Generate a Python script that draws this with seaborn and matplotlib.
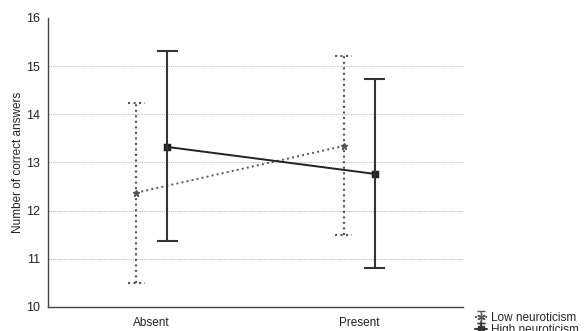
import numpy as np
import pandas as pd
import matplotlib
matplotlib.use("Agg")
import matplotlib.pyplot as plt
import seaborn as sns

# summary values
conditions = ["Absent", "Present"]
groups = ["Low neuroticism", "High neuroticism"]
means_low = [12.37, 13.34]
upper_low = [14.23, 15.20]
lower_low = [10.50, 11.50]
means_high = [13.32, 12.76]
upper_high = [15.31, 14.73]
lower_high = [11.37, 10.80]

df = pd.DataFrame({
    "condition": conditions * 2,
    "group": [groups[0]] * 2 + [groups[1]] * 2,
    "score": means_low + means_high,
})

sns.set_style("white")
plt.rcParams["font.family"] = ["Liberation Sans", "DejaVu Sans"]

fig = plt.figure(figsize=(5.86, 3.31), dpi=100)
ax = fig.add_axes([0.082, 0.073, 0.708, 0.873])

# grid lines
for y in [11, 12, 13, 14, 15]:
    ax.axhline(y, color="#bdbdbd", lw=0.8, ls=(0, (1, 1)), zorder=0)

sns.pointplot(data=df, x="condition", y="score", hue="group", order=conditions,
              hue_order=groups, dodge=0.15, errorbar=None,
              palette=["#555555", "#222222"], markers=["*", "s"],
              linestyles=[":", "-"], markersize=5, linewidth=1.4, ax=ax, legend=False)

dodge = 0.075
xs = np.arange(len(conditions))
styles = [
    dict(lo=lower_low, hi=upper_low, off=-dodge, ls=":",
         color="#555555", marker=(6, 2, 0), cap=0.04, ms=6),
    dict(lo=lower_high, hi=upper_high, off=dodge, ls="-",
         color="#333333", marker="s", cap=0.05, ms=5),
]
handles = []
for g, st in zip(groups, styles):
    x = xs + st["off"]
    lo = np.array(st["lo"])
    hi = np.array(st["hi"])
    ax.vlines(x, lo, hi, color=st["color"], lw=1.5, ls=st["ls"], zorder=2)
    ax.hlines(lo, x - st["cap"], x + st["cap"], color=st["color"], lw=1.5, ls=st["ls"], zorder=2)
    ax.hlines(hi, x - st["cap"], x + st["cap"], color=st["color"], lw=1.5, ls=st["ls"], zorder=2)
    # invisible errorbar, only used as legend handle
    h = ax.errorbar([np.nan], [np.nan], yerr=[[0.5]], color=st["color"], ls=st["ls"],
                    marker=st["marker"], ms=st["ms"], capsize=3, lw=1.4, label=g)
    if st["ls"] == ":":
        h[2][0].set_linestyle(":")
    handles.append(h)

ax.set_xlim(-0.5, 1.5)
ax.set_ylim(10, 16)
ax.set_yticks(range(10, 17))
ax.set_xlabel("")
ax.set_ylabel("Number of correct answers", fontsize=8.5, color="#222222", labelpad=1)
ax.tick_params(axis="y", labelsize=9, colors="#222222", length=0, pad=6)
ax.tick_params(axis="x", labelsize=8.5, colors="#222222", length=0, pad=7)
for side in ["top", "right"]:
    ax.spines[side].set_visible(False)
for side in ["left", "bottom"]:
    ax.spines[side].set_color("#444444")
    ax.spines[side].set_linewidth(1.0)

fig.legend(handles=handles, labels=groups, loc="upper left", bbox_to_anchor=(0.8, 0.075),
           frameon=False, fontsize=8.5, handlelength=1.0, labelspacing=0.0,
           borderpad=0, handletextpad=0.4)

fig.savefig("out.png", dpi=100)
